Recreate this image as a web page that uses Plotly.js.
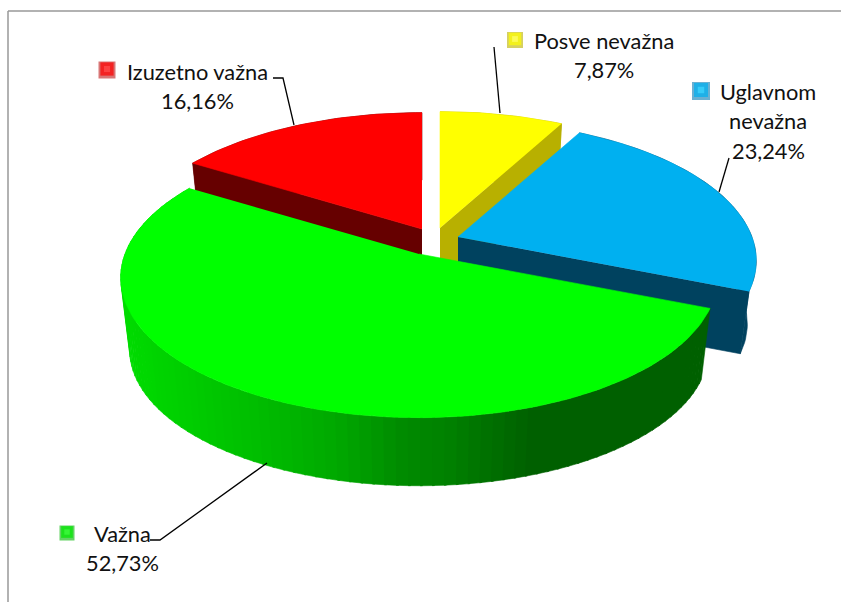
<!DOCTYPE html>
<html><head><meta charset="utf-8">
<script src="https://cdn.plot.ly/plotly-3.0.1.min.js"></script>
<style>html,body{margin:0;padding:0;background:#fff;overflow:hidden}</style>
</head><body><div id="chart" style="width:841px;height:602px"></div>
<script>
// Data
const categories = ["Posve nevažna", "Uglavnom nevažna", "Važna", "Izuzetno važna"];
const values = [7.87, 23.24, 52.73, 16.16];
// Slice styling
const topColors = ["#FFFF00", "#00B0F0", "#00FF00", "#FF0000"];
const faceColors = ["#B8B000", "#00425F", "#006000", "#660000"];
const keyOuter = ["#C4BC20", "#2B8FBF", "#20C020", "#C83C3C"];
const keyInner = ["#FFFF00", "#00B0F0", "#00E800", "#FF0000"];
const keyLight = ["#FFFF70", "#40D8FF", "#40FF40", "#FF5050"];
// Pie projection
const radiusX = 294, radiusY = 136, perspective = 0.169, bottomScale = 0.97;
const apexX = [440, 458, 419, 422];
const apexY = [228, 237, 254, 229];
const depth = [64, 64, 73, 64];
// Label layout
const labelLines = [["Posve nevažna"], ["Uglavnom", "nevažna"], ["Važna"], ["Izuzetno važna"]];
const labelX = [604, 768, 122, 197];
const labelY = [40, 91, 533, 71];
const lineGap = 29.5;
const keyX = [515, 701, 67, 107];
const keyY = [40, 91, 533, 70];
const keySize = [16, 18, 15, 17];
const leaderX = [[494, 500], [729, 719], [150, 160, 267], [273, 283, 294]];
const leaderY = [[47, 113], [158, 192], [540, 540, 463], [78, 78, 125]];
// Shading of the green outer wall, by horizontal position
const shadeX = [120, 250, 340, 400, 450, 530, 720];
const shadeG = [222, 192, 168, 140, 128, 96, 96];

const rad = d => d * Math.PI / 180;
function pt(i, deg, bottom) {
  const t = rad(deg), w = 1 + perspective * Math.cos(t), s = bottom ? bottomScale : 1;
  return [apexX[i] + s * radiusX * Math.sin(t) / w,
          apexY[i] + (bottom ? depth[i] : 0) - s * radiusY * Math.cos(t) / w];
}
function poly(points, color) {
  return {type: "scatter", mode: "lines", x: points.map(p => p[0]), y: points.map(p => p[1]),
    fill: "toself", fillcolor: color, line: {color: color, width: 0.6},
    hoverinfo: "skip", showlegend: false};
}
function arc(i, a0, a1, bottom) {
  const out = [], n = Math.max(2, Math.ceil(Math.abs(a1 - a0) / 1.5));
  for (let k = 0; k <= n; k++) out.push(pt(i, a0 + (a1 - a0) * k / n, bottom));
  return out;
}
function shade(x) {
  for (let k = 1; k < shadeX.length; k++) {
    if (x <= shadeX[k]) {
      const f = Math.max(0, (x - shadeX[k - 1]) / (shadeX[k] - shadeX[k - 1]));
      return Math.round(shadeG[k - 1] + f * (shadeG[k] - shadeG[k - 1]));
    }
  }
  return shadeG[shadeG.length - 1];
}

const starts = [], ends = [];
let acc = 0;
values.forEach(v => { starts.push(acc * 3.6); acc += v; ends.push(acc * 3.6); });

const traces = [];
const apexTop = i => [apexX[i], apexY[i]];
const apexBottom = i => [apexX[i], apexY[i] + depth[i]];
function solidSlice(i, faceAngle) {
  // outer wall
  traces.push(poly(arc(i, starts[i], ends[i], false).concat(arc(i, ends[i], starts[i], true)), faceColors[i]));
  // cut face
  traces.push(poly([apexTop(i), pt(i, faceAngle, false), pt(i, faceAngle, true), apexBottom(i)], faceColors[i]));
  // top
  traces.push(poly([apexTop(i)].concat(arc(i, starts[i], ends[i], false)), topColors[i]));
}
solidSlice(0, ends[0]);
solidSlice(3, starts[3]);
solidSlice(1, ends[1]);
// green slice: outer wall in shaded strips, then top
const gi = 2;
for (let a = ends[gi] - 0; a > starts[gi]; a -= 2) {
  const a1 = Math.max(starts[gi], a - 2.4);
  const p0 = pt(gi, a, false), p1 = pt(gi, a1, false), q1 = pt(gi, a1, true), q0 = pt(gi, a, true);
  const g = shade((q0[0] + q1[0]) / 2);
  traces.push(poly([p0, p1, q1, q0], "rgb(0," + g + ",0)"));
}
traces.push(poly([apexTop(gi)].concat(arc(gi, starts[gi], ends[gi], false)), topColors[gi]));

// leader lines
leaderX.forEach((xs, i) => traces.push({type: "scatter", mode: "lines", x: xs, y: leaderY[i],
  line: {color: "#000000", width: 1.3}, hoverinfo: "skip", showlegend: false}));
// legend keys
[[1, keyOuter], [0.78, keyInner], [0.36, keyLight]].forEach(([k, cols]) => {
  traces.push({type: "scatter", mode: "markers", x: keyX, y: keyY.map((y, j) => y - (k < 1 ? 1 : 0)),
    marker: {symbol: "square", size: keySize.map(s => s * k), color: cols, line: {width: 0}},
    hoverinfo: "skip", showlegend: false});
});

const annotations = [];
const fmt = v => v.toFixed(2).replace(".", ",") + "%";
categories.forEach((c, i) => {
  labelLines[i].concat([fmt(values[i])]).forEach((txt, k) => {
    annotations.push({x: labelX[i], y: labelY[i] + k * lineGap, xref: "x", yref: "y", text: txt,
      showarrow: false, xanchor: "center", yanchor: "middle",
      font: {family: "Lato, 'Open Sans', sans-serif", size: 21.8, color: "#111111"}});
  });
});

const layout = {
  width: 841, height: 602, margin: {l: 0, r: 0, t: 0, b: 0, pad: 0},
  paper_bgcolor: "#ffffff", plot_bgcolor: "#ffffff", showlegend: false,
  xaxis: {visible: false, range: [0, 841], fixedrange: true},
  yaxis: {visible: false, range: [602, 0], fixedrange: true},
  annotations: annotations,
  shapes: [
    {type: "line", xref: "x", yref: "y", x0: 8, y0: 11, x1: 841, y1: 11, line: {color: "#989898", width: 1.5}},
    {type: "line", xref: "x", yref: "y", x0: 8, y0: 11, x1: 8, y1: 602, line: {color: "#989898", width: 1.5}}
  ]
};
Plotly.newPlot("chart", traces, layout, {displayModeBar: false, staticPlot: true});
</script></body></html>
